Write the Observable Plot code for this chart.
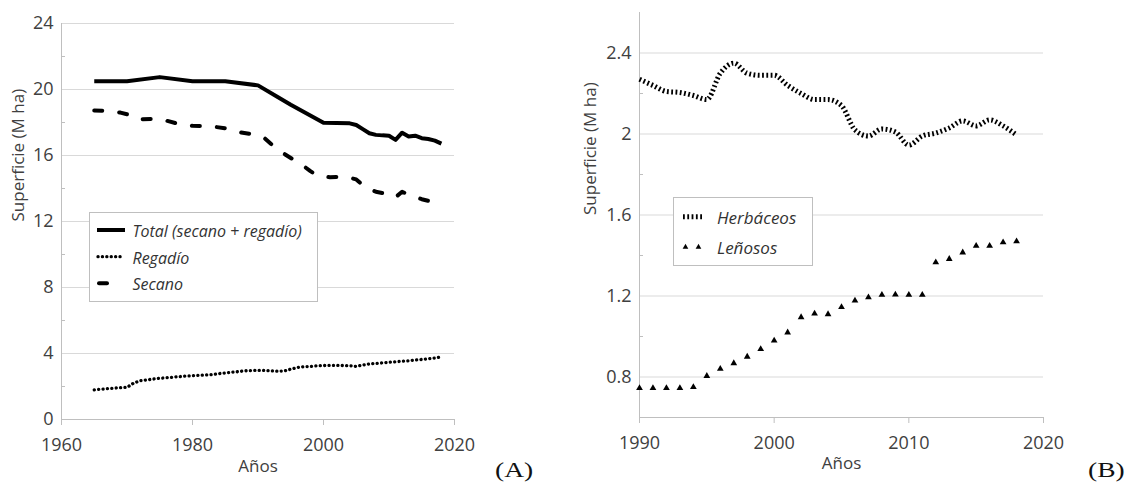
<!DOCTYPE html>
<html><head><meta charset="utf-8">
<script src="https://cdn.jsdelivr.net/npm/d3@7"></script>
<script src="https://cdn.jsdelivr.net/npm/@observablehq/plot@0.6"></script>
<style>
body{margin:0;background:#fff;}
#wrap{position:relative;width:1132px;height:486px;overflow:hidden;font-family:"Open Sans",sans-serif;background:#fff;}
#wrap svg.panel{position:absolute;top:0;}
.tag{position:absolute;font-family:"Liberation Serif","Times New Roman",serif;font-weight:normal;font-size:22px;color:#111;transform:scaleX(1.25);transform-origin:left top;line-height:22px;white-space:nowrap;}
.legend{position:absolute;top:0;left:0;}
</style></head><body><div id="wrap"></div>
<script>
// ---------- Panel A data ----------
const yTitle = "Superficie (M ha)";
const xTitle = "Años";
const xTicksA = [1960, 1980, 2000, 2020];
const yTicksA = [0, 4, 8, 12, 16, 20, 24];
const yMinorA = [2, 6, 10, 14, 18, 22];
const seriesNamesA = ["Total (secano + regadío)", "Regadío", "Secano"];

const totalYears = [1965,1970,1975,1980,1985,1990,1993,1995,2000,2004,2005,2006,2007,2008,2009,2010,2011,2012,2013,2014,2015,2016,2017,2018];
const total = [20.5,20.5,20.75,20.5,20.5,20.25,19.55,19.08,17.98,17.95,17.85,17.6,17.35,17.25,17.22,17.2,16.95,17.38,17.15,17.2,17.05,17.0,16.9,16.72];

const regadioYears = [1965,1966,1967,1968,1969,1970,1971,1972,1973,1974,1975,1976,1977,1978,1979,1980,1981,1982,1983,1984,1985,1986,1987,1988,1989,1990,1991,1992,1993,1994,1995,1996,1997,1998,1999,2000,2001,2002,2003,2004,2005,2006,2007,2008,2009,2010,2011,2012,2013,2014,2015,2016,2017,2018];
const regadio = [1.80,1.83,1.87,1.90,1.93,1.95,2.20,2.35,2.40,2.45,2.50,2.53,2.56,2.60,2.63,2.65,2.68,2.70,2.72,2.78,2.82,2.86,2.90,2.95,2.97,2.98,2.97,2.95,2.93,2.94,3.05,3.15,3.20,3.22,3.25,3.27,3.28,3.28,3.27,3.26,3.22,3.30,3.37,3.40,3.43,3.47,3.50,3.53,3.56,3.60,3.64,3.68,3.72,3.80];

const secanoYears = [1965,1967,1969,1970,1971,1972,1975,1978,1980,1983,1985,1987,1989,1990,1991,1992,1993,1994,1995,1996,1997,1998,1999,2000,2001,2003,2004,2005,2006,2007,2008,2009,2010,2011,2012,2013,2014,2015,2016,2017,2018];
const secano = [18.73,18.7,18.6,18.5,18.25,18.2,18.22,17.9,17.8,17.76,17.65,17.42,17.3,17.2,17.05,16.7,16.4,16.1,15.85,15.6,15.35,15.05,14.8,14.72,14.68,14.72,14.65,14.55,14.2,13.98,13.8,13.72,13.6,13.47,13.8,13.62,13.5,13.35,13.25,13.12,12.9];

// ---------- Panel B data ----------
const xTicksB = [1990, 2000, 2010, 2020];
const yTicksB = [0.8, 1.2, 1.6, 2, 2.4];
const yMinorB = [1.0, 1.4, 1.8, 2.2];
const seriesNamesB = ["Herbáceos", "Leñosos"];
const yearsB = [1990,1991,1992,1993,1994,1995,1996,1997,1998,1999,2000,2001,2002,2003,2004,2005,2006,2007,2008,2009,2010,2011,2012,2013,2014,2015,2016,2017,2018];
const herbaceos = [2.27,2.24,2.21,2.205,2.19,2.17,2.3,2.35,2.3,2.29,2.29,2.24,2.2,2.17,2.17,2.14,2.02,1.99,2.025,2.01,1.945,1.99,2.005,2.03,2.065,2.04,2.07,2.04,1.995];
const lenosos = [0.745,0.745,0.745,0.745,0.75,0.805,0.84,0.868,0.9,0.938,0.98,1.02,1.095,1.113,1.11,1.145,1.177,1.193,1.206,1.207,1.206,1.206,1.366,1.383,1.415,1.448,1.448,1.465,1.47];

const panelTags = ["(A)", "(B)"];

// ---------- styling ----------
const FONT = '"Open Sans", sans-serif';
const GRID = "#d9d9d9", AXIS = "#bfbfbf", TXT = "#404040";
const S_TOTAL = {stroke: "#000", strokeWidth: 4, strokeLinejoin: "round", strokeLinecap: "butt"};
const S_REG = {stroke: "#000", strokeWidth: 3.3, strokeDasharray: "0.1 4.3", strokeLinecap: "round"};
const S_SEC = {stroke: "#000", strokeWidth: 4, strokeDasharray: "8 17", strokeLinecap: "round", strokeLinejoin: "round"};
const S_HERB = {stroke: "#000", strokeWidth: 5, strokeDasharray: "1.8 2.5", strokeLinecap: "butt", strokeLinejoin: "miter"};

const toRows = (xs, ys) => xs.map((x, i) => ({x, y: ys[i]}));
const fmt = d => String(d);

function frameMarks(xTicks, yTicks, yMinor, xMin, yMin, yTitleDx, xTitleDy) {
  return [
    Plot.gridY(yTicks, {stroke: GRID, strokeOpacity: 1, strokeWidth: 1}),
    Plot.ruleX([xMin], {stroke: AXIS}),
    Plot.ruleY([yMin], {stroke: AXIS}),
    Plot.axisY(yMinor, {anchor: "left", tickSize: 4, dx: 4, tickFormat: () => "", stroke: AXIS, label: null}),
    Plot.axisY(yTicks, {anchor: "left", tickSize: 0, tickPadding: 8, fontSize: 18, fill: TXT, tickFormat: fmt, label: null}),
    Plot.axisX(xTicks, {anchor: "bottom", tickSize: 6, tickFormat: () => "", stroke: AXIS, label: null}),
    Plot.axisX(xTicks, {anchor: "bottom", tickSize: 0, tickPadding: 19, fontSize: 18, fill: TXT, tickFormat: fmt, label: null}),
    Plot.text([yTitle], {text: d => d, frameAnchor: "left", rotate: -90, dx: yTitleDx, fontSize: 17, fill: TXT}),
    Plot.text([xTitle], {text: d => d, frameAnchor: "bottom", dy: xTitleDy, fontSize: 17, fill: TXT})
  ];
}

const wrap = document.getElementById("wrap");

const A = Plot.plot({
  width: 566, height: 486,
  marginLeft: 61, marginRight: 112, marginTop: 23, marginBottom: 67,
  x: {domain: [1960, 2020]},
  y: {domain: [0, 24]},
  style: {fontFamily: FONT, background: "transparent", overflow: "visible"},
  marks: [
    ...frameMarks(xTicksA, yTicksA, yMinorA, 1960, 0, -43, 52),
    Plot.line(toRows(regadioYears, regadio), {x: "x", y: "y", ...S_REG}),
    Plot.line(toRows(secanoYears, secano), {x: "x", y: "y", ...S_SEC}),
    Plot.line(toRows(totalYears, total), {x: "x", y: "y", ...S_TOTAL})
  ]
});
A.classList.add("panel");
A.style.left = "0px";
wrap.appendChild(A);

const B = Plot.plot({
  width: 566, height: 486,
  marginLeft: 73, marginRight: 89, marginTop: 12, marginBottom: 69,
  x: {domain: [1990, 2020]},
  y: {domain: [0.6, 2.6]},
  style: {fontFamily: FONT, background: "transparent", overflow: "visible"},
  marks: [
    ...frameMarks(xTicksB, yTicksB, yMinorB, 1990, 0.6, -49, 51),
    Plot.line(toRows(yearsB, herbaceos), {x: "x", y: "y", curve: "monotone-x", ...S_HERB}),
    Plot.dot(toRows(yearsB, lenosos), {x: "x", y: "y", symbol: "triangle", r: 2.5, fill: "#000", stroke: null})
  ]
});
B.classList.add("panel");
B.style.left = "566px";
wrap.appendChild(B);

// ---------- legends ----------
const NS = "http://www.w3.org/2000/svg";
function el(name, attrs, parent) {
  const e = document.createElementNS(NS, name);
  for (const k in attrs) e.setAttribute(k, attrs[k]);
  if (parent) parent.appendChild(e);
  return e;
}
function legendBox(left, top, w, h) {
  const svg = el("svg", {width: w + 1, height: h + 1, class: "legend"});
  svg.style.left = left + "px"; svg.style.top = top + "px";
  el("rect", {x: 0.5, y: 0.5, width: w, height: h, fill: "#fff", stroke: AXIS}, svg);
  wrap.appendChild(svg);
  return svg;
}
function legendText(svg, x, y, txt, size) {
  const t = el("text", {x, y, "dominant-baseline": "central", "font-family": FONT, "font-style": "italic", "font-size": size, fill: "#333"}, svg);
  t.textContent = txt;
}
const styleAttrs = s => {
  const a = {stroke: s.stroke, "stroke-width": s.strokeWidth, fill: "none"};
  if (s.strokeDasharray) a["stroke-dasharray"] = s.strokeDasharray;
  if (s.strokeLinecap) a["stroke-linecap"] = s.strokeLinecap;
  return a;
};
const LA = legendBox(89, 212, 228, 89);
el("line", {x1: 8, x2: 36, y1: 18, y2: 18, ...styleAttrs(S_TOTAL)}, LA);
legendText(LA, 43.5, 19, seriesNamesA[0], 16);
el("line", {x1: 9, x2: 32, y1: 44.7, y2: 44.7, ...styleAttrs(S_REG)}, LA);
legendText(LA, 43.5, 45.5, seriesNamesA[1], 16);
el("line", {x1: 10, x2: 18, y1: 71.3, y2: 71.3, stroke: "#000", "stroke-width": 4, "stroke-linecap": "round"}, LA);
legendText(LA, 43.5, 72, seriesNamesA[2], 16);

const LB = legendBox(673, 197, 139, 68);
el("line", {x1: 10, x2: 31, y1: 19.7, y2: 19.7, ...styleAttrs(S_HERB)}, LB);
legendText(LB, 44, 20, seriesNamesB[0], 17);
for (const cx of [12.5, 25.5]) {
  el("path", {d: d3.symbol(d3.symbolTriangle, 14)(), transform: `translate(${cx},50)`, fill: "#000"}, LB);
}
legendText(LB, 44, 50, seriesNamesB[1], 17);

// ---------- panel tags ----------
[[panelTags[0], 495], [panelTags[1], 1088]].forEach(([t, left]) => {
  const d = document.createElement("div");
  d.className = "tag"; d.textContent = t;
  d.style.left = left + "px"; d.style.top = "459px";
  wrap.appendChild(d);
});
</script></body></html>
